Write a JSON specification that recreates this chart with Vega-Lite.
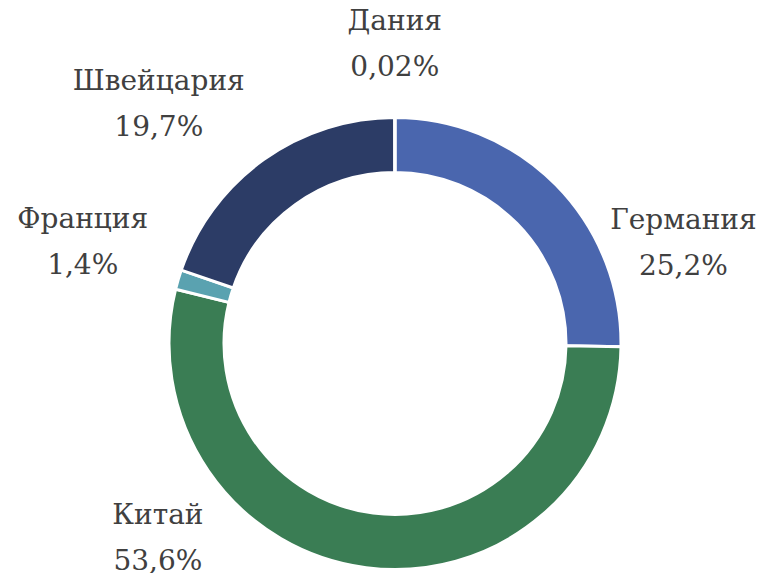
{
  "$schema": "https://vega.github.io/schema/vega-lite/v6.json",
  "width": 730,
  "height": 459,
  "autosize": "none",
  "padding": {"left": 30, "top": 114, "right": 0, "bottom": 0},
  "background": "white",
  "view": {"stroke": null},
  "data": {
    "values": [
      {"country": "Германия", "value": 25.2, "label": "25,2%", "order": 1},
      {"country": "Китай", "value": 53.6, "label": "53,6%", "order": 2},
      {"country": "Франция", "value": 1.4, "label": "1,4%", "order": 3},
      {"country": "Швейцария", "value": 19.7, "label": "19,7%", "order": 4},
      {"country": "Дания", "value": 0.02, "label": "0,02%", "order": 5}
    ]
  },
  "encoding": {
    "theta": {"field": "value", "type": "quantitative", "stack": true},
    "order": {"field": "order", "type": "quantitative"}
  },
  "layer": [
    {
      "mark": {"type": "arc", "outerRadius": 226, "innerRadius": 171, "stroke": "white", "strokeWidth": 3},
      "encoding": {
        "color": {
          "field": "country",
          "type": "nominal",
          "scale": {
            "domain": ["Германия", "Китай", "Франция", "Швейцария", "Дания"],
            "range": ["#4A66AE", "#3A7D54", "#5AA2B0", "#2C3C66", "#7F9FD6"]
          },
          "legend": null
        }
      }
    },
    {
      "mark": {"type": "text", "radius": 305, "thetaOffset": 0.447, "dy": -23, "font": "DejaVu Serif", "fontSize": 28, "color": "#404040", "lineBreak": "\n", "lineHeight": 46, "baseline": "middle", "align": "center"},
      "encoding": {"text": {"condition": {"test": "datum.country === 'Германия'", "value": "Германия\n25,2%"}, "value": ""}}
    },
    {
      "mark": {"type": "text", "radius": 307, "thetaOffset": 0.754, "dy": -23, "font": "DejaVu Serif", "fontSize": 28, "color": "#404040", "lineBreak": "\n", "lineHeight": 46, "baseline": "middle", "align": "center"},
      "encoding": {"text": {"condition": {"test": "datum.country === 'Китай'", "value": "Китай\n53,6%"}, "value": ""}}
    },
    {
      "mark": {"type": "text", "radius": 328, "thetaOffset": 0.024, "dy": -23, "font": "DejaVu Serif", "fontSize": 28, "color": "#404040", "lineBreak": "\n", "lineHeight": 46, "baseline": "middle", "align": "center"},
      "encoding": {"text": {"condition": {"test": "datum.country === 'Франция'", "value": "Франция\n1,4%"}, "value": ""}}
    },
    {
      "mark": {"type": "text", "radius": 336, "thetaOffset": -0.159, "dy": -23, "font": "DejaVu Serif", "fontSize": 28, "color": "#404040", "lineBreak": "\n", "lineHeight": 46, "baseline": "middle", "align": "center"},
      "encoding": {"text": {"condition": {"test": "datum.country === 'Швейцария'", "value": "Швейцария\n19,7%"}, "value": ""}}
    },
    {
      "mark": {"type": "text", "radius": 299, "thetaOffset": 0, "dy": -23, "font": "DejaVu Serif", "fontSize": 28, "color": "#404040", "lineBreak": "\n", "lineHeight": 46, "baseline": "middle", "align": "center"},
      "encoding": {"text": {"condition": {"test": "datum.country === 'Дания'", "value": "Дания\n0,02%"}, "value": ""}}
    }
  ]
}
